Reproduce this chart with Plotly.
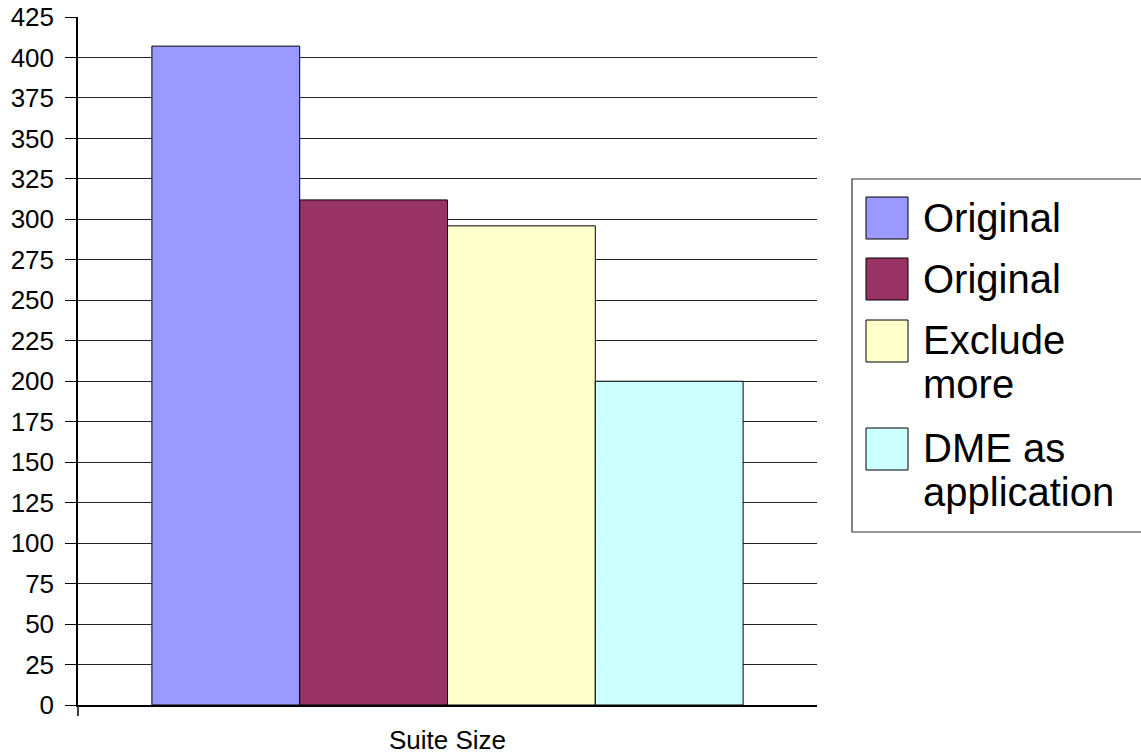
import plotly.graph_objects as go

categories = ["Suite Size"]
series_names = ["Original", "Original", "Exclude<br>more", "DME as<br>application"]
series_values = [407, 312, 296, 200]
series_colors = ["#9999FF", "#993366", "#FFFFCC", "#CCFFFF"]
y_ticks = list(range(0, 426, 25))

W, H = 1141, 754
L, R, T, B = 78, 324, 17, 49
PW, PH = W - L - R, H - T - B

def px_x(x):
    return (x - L) / PW

def px_y(y):
    return (H - B - y) / PH

FONT = "Arial, Liberation Sans, sans-serif"

fig = go.Figure()
for name, val, col in zip(series_names, series_values, series_colors):
    fig.add_trace(go.Bar(
        x=categories, y=[val], name=name.replace("<br>", " "),
        marker=dict(color=col, line=dict(color="#000000", width=1)),
        showlegend=False,
    ))

shapes = []
annotations = []
# y axis extension below baseline (category boundary tick)
shapes.append(dict(type="line", xref="paper", yref="paper", x0=0, x1=0,
                   y0=0, y1=px_y(716), line=dict(color="#000000", width=1.5)))
# legend box
shapes.append(dict(type="rect", xref="paper", yref="paper",
                   x0=px_x(852), x1=px_x(1146), y0=px_y(532), y1=px_y(179),
                   line=dict(color="#333333", width=1.2), fillcolor="rgba(0,0,0,0)"))
sw_tops = [197, 258, 320, 428]
for name, col, top in zip(series_names, series_colors, sw_tops):
    shapes.append(dict(type="rect", xref="paper", yref="paper",
                       x0=px_x(866), x1=px_x(908), y0=px_y(top + 42), y1=px_y(top),
                       line=dict(color="#000000", width=1), fillcolor=col))
    lines = name.split("<br>")
    off = 21 if len(lines) == 1 else 20
    for k, line in enumerate(lines):
        annotations.append(dict(xref="paper", yref="paper", x=px_x(921), y=px_y(top + off + 44 * k),
                                xanchor="left", yanchor="middle", text=line, showarrow=False,
                                font=dict(family=FONT, size=40, color="#000000")))

fig.update_layout(
    width=W, height=H,
    margin=dict(l=L, r=R, t=T, b=B, pad=0, autoexpand=False),
    paper_bgcolor="white", plot_bgcolor="white",
    barmode="group", bargap=0.2, bargroupgap=0,
    font=dict(family=FONT, color="#000000"),
    shapes=shapes, annotations=annotations,
    showlegend=False,
)
fig.update_yaxes(
    range=[0, 425], tickvals=y_ticks, ticktext=[str(v) for v in y_ticks],
    showgrid=True, gridcolor="#222222", gridwidth=1,
    ticks="outside", ticklen=11, tickcolor="#000000", tickwidth=1,
    showline=True, linecolor="#000000", linewidth=1.5,
    tickfont=dict(family=FONT, size=26, color="#000000"),
    ticklabelstandoff=6, zeroline=False, automargin=False,
)
fig.update_xaxes(
    showline=True, linecolor="#000000", linewidth=1.5, ticks="",
    tickfont=dict(family=FONT, size=26, color="#000000"),
    ticklabelstandoff=11, automargin=False,
)
fig.write_html("out.html")
